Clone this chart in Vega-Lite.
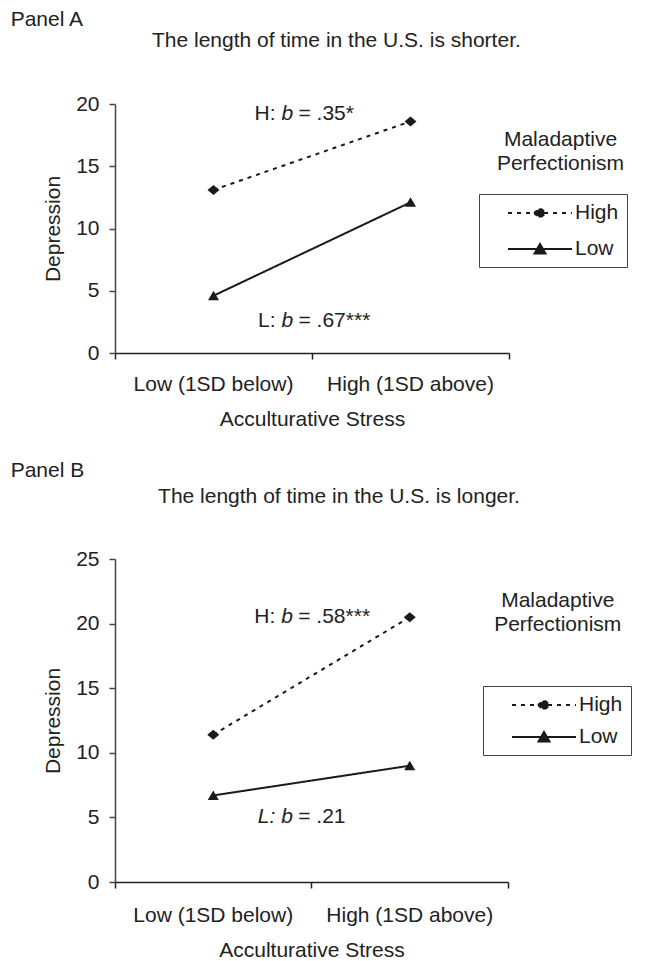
{
  "$schema": "https://vega.github.io/schema/vega-lite/v6.json",
  "background": "white",
  "padding": {"left": 10, "top": 9, "right": 0, "bottom": 0},
  "config": {
    "font": "Liberation Sans",
    "view": {"stroke": null},
    "axis": {"labelFont": "Liberation Sans", "titleFont": "Liberation Sans", "labelFontSize": 21, "titleFontSize": 21, "titleFontWeight": "normal", "labelColor": "#222", "titleColor": "#222", "domainColor": "#444", "tickColor": "#444", "grid": false, "domainWidth": 1.5, "tickWidth": 1.5, "tickSize": 6},
    "title": {"font": "Liberation Sans", "fontSize": 21, "fontWeight": "normal", "color": "#222"},
    "text": {"font": "Liberation Sans", "fontSize": 21, "color": "#222"},
    "legend": {"labelFont": "Liberation Sans", "labelFontSize": 21, "labelColor": "#222"}
  },
  "datasets": {
    "points": [
      {"panel": "A", "group": "High", "stress": "Low (1SD below)", "depression": 13.1},
      {"panel": "A", "group": "High", "stress": "High (1SD above)", "depression": 18.6},
      {"panel": "A", "group": "Low", "stress": "Low (1SD below)", "depression": 4.6},
      {"panel": "A", "group": "Low", "stress": "High (1SD above)", "depression": 12.1},
      {"panel": "B", "group": "High", "stress": "Low (1SD below)", "depression": 11.4},
      {"panel": "B", "group": "High", "stress": "High (1SD above)", "depression": 20.5},
      {"panel": "B", "group": "Low", "stress": "Low (1SD below)", "depression": 6.7},
      {"panel": "B", "group": "Low", "stress": "High (1SD above)", "depression": 9.0}
    ],
    "notes": [
      {"panel": "A", "group": "High", "stress": "Low (1SD below)", "depression": 19.2, "prefix": "H:", "stat": "= .35*"},
      {"panel": "A", "group": "Low", "stress": "Low (1SD below)", "depression": 2.6, "prefix": "L:", "stat": "= .67***"},
      {"panel": "B", "group": "High", "stress": "Low (1SD below)", "depression": 20.5, "prefix": "H:", "stat": "= .58***"},
      {"panel": "B", "group": "Low", "stress": "Low (1SD below)", "depression": 5.0, "prefix": "L:", "stat": "= .21"}
    ]
  },
  "spacing": 31,
  "resolve": {"scale": {"strokeDash": "independent", "shape": "independent", "stroke": "independent"}, "legend": {"strokeDash": "independent", "shape": "independent", "stroke": "independent"}},
  "vconcat": [
    {
      "title": {"text": "Panel A", "anchor": "start", "dx": -32, "offset": 0},
      "vconcat": [
        {
          "width": 394,
          "height": 249,
          "title": {"text": "The length of time in the U.S. is shorter.", "anchor": "middle", "frame": "bounds", "offset": 42, "dx": 3},
          "encoding": {
            "x": {"field": "stress", "type": "nominal", "scale": {"type": "band", "domain": ["Low (1SD below)", "High (1SD above)"], "paddingInner": 0, "paddingOuter": 0}, "axis": {"title": "Acculturative Stress", "bandPosition": 1, "tickExtra": true, "labelAngle": 0, "labelPadding": 14, "titlePadding": 14, "domainColor": "#222", "tickColor": "#222", "labelOverlap": false}},
            "y": {"field": "depression", "type": "quantitative", "scale": {"domain": [0, 20], "nice": false}, "axis": {"title": "Depression", "values": [0, 5, 10, 15, 20], "labelPadding": 10, "titlePadding": 12}}
          },
          "layer": [
            {
              "data": {"name": "points"},
              "transform": [{"filter": "datum.panel == 'A'"}],
              "mark": {"type": "line", "strokeWidth": 2, "color": "#1a1a1a"},
              "encoding": {
                "strokeDash": {"field": "group", "type": "nominal", "scale": {"domain": ["High", "Low"], "range": [[4, 5], [1, 0]]},
                  "legend": {"title": null, "orient": "none", "legendX": 364, "legendY": 90, "strokeColor": "#444", "fillColor": "white", "padding": 8, "symbolSize": 400, "symbolStrokeWidth": 2, "symbolFillColor": "#1a1a1a", "symbolOffset": 42, "labelOffset": 24, "rowPadding": 15, "labelExpr": "datum.label + '   '"}}
              }
            },
            {
              "data": {"name": "points"},
              "transform": [{"filter": "datum.panel == 'A'"}],
              "mark": {"type": "point", "filled": true, "color": "#1a1a1a", "strokeWidth": 0, "opacity": 1, "size": 400},
              "encoding": {
                "shape": {"field": "group", "type": "nominal", "scale": {"domain": ["High", "Low"], "range": ["M-5.3,0M-3.2,0L3.2,0M-0.6,0L0,-0.5L0.6,0L0,0.5Z", "M-5.3,0M-3.2,0L3.2,0M-0.55,0.45L0,-0.5L0.55,0.45Z"]},
                  "legend": {"title": null, "orient": "none", "legendX": 364, "legendY": 90, "strokeColor": "#444", "fillColor": "white", "padding": 8, "symbolSize": 400, "symbolStrokeWidth": 2, "symbolFillColor": "#1a1a1a", "symbolOffset": 42, "labelOffset": 24, "rowPadding": 15, "labelExpr": "datum.label + '   '"}},
                "stroke": {"field": "group", "type": "nominal", "scale": {"domain": ["High", "Low"], "range": ["#1a1a1a", "#1a1a1a"]},
                  "legend": {"title": null, "orient": "none", "legendX": 364, "legendY": 90, "strokeColor": "#444", "fillColor": "white", "padding": 8, "symbolSize": 400, "symbolStrokeWidth": 2, "symbolFillColor": "#1a1a1a", "symbolOffset": 42, "labelOffset": 24, "rowPadding": 15, "labelExpr": "datum.label + '   '"}}
              }
            },
            {
              "data": {"name": "notes"},
              "transform": [{"filter": "datum.panel == 'A'"}],
              "mark": {"type": "text", "align": "right", "baseline": "middle", "dx": 62},
              "encoding": {"text": {"field": "prefix"}}
            },
            {
              "data": {"name": "notes"},
              "transform": [{"filter": "datum.panel == 'A'"}],
              "mark": {"type": "text", "align": "left", "baseline": "middle", "dx": 68, "fontStyle": "italic"},
              "encoding": {"text": {"value": "b"}}
            },
            {
              "data": {"name": "notes"},
              "transform": [{"filter": "datum.panel == 'A'"}],
              "mark": {"type": "text", "align": "left", "baseline": "middle", "dx": 85},
              "encoding": {"text": {"field": "stat"}}
            },
            {
              "data": {"name": "notes"},
              "transform": [{"filter": "datum.panel == 'A' && datum.group == 'High'"}],
              "mark": {"type": "text", "align": "center", "baseline": "middle", "dx": 150, "lineHeight": 24, "text": ["Maladaptive", "Perfectionism"]},
              "encoding": {"x": {"datum": "High (1SD above)", "type": "nominal"}, "y": {"datum": 17.1, "type": "quantitative"}}
            }
          ]
        }
      ]
    },
    {
      "title": {"text": "Panel B", "anchor": "start", "dx": -32, "offset": 5},
      "vconcat": [
        {
          "width": 393,
          "height": 323,
          "title": {"text": "The length of time in the U.S. is longer.", "anchor": "middle", "frame": "bounds", "offset": 41, "dx": 7},
          "encoding": {
            "x": {"field": "stress", "type": "nominal", "scale": {"type": "band", "domain": ["Low (1SD below)", "High (1SD above)"], "paddingInner": 0, "paddingOuter": 0}, "axis": {"title": "Acculturative Stress", "bandPosition": 1, "tickExtra": true, "labelAngle": 0, "labelPadding": 16, "titlePadding": 14, "domainColor": "#222", "tickColor": "#222", "labelOverlap": false}},
            "y": {"field": "depression", "type": "quantitative", "scale": {"domain": [0, 25], "nice": false}, "axis": {"title": "Depression", "values": [0, 5, 10, 15, 20, 25], "labelPadding": 10, "titlePadding": 12}}
          },
          "layer": [
            {
              "data": {"name": "points"},
              "transform": [{"filter": "datum.panel == 'B'"}],
              "mark": {"type": "line", "strokeWidth": 2, "color": "#1a1a1a"},
              "encoding": {
                "strokeDash": {"field": "group", "type": "nominal", "scale": {"domain": ["High", "Low"], "range": [[4, 5], [1, 0]]},
                  "legend": {"title": null, "orient": "none", "legendX": 368, "legendY": 127, "strokeColor": "#444", "fillColor": "white", "padding": 8, "symbolSize": 400, "symbolStrokeWidth": 2, "symbolFillColor": "#1a1a1a", "symbolOffset": 42, "labelOffset": 24, "rowPadding": 11, "labelExpr": "datum.label + '   '"}}
              }
            },
            {
              "data": {"name": "points"},
              "transform": [{"filter": "datum.panel == 'B'"}],
              "mark": {"type": "point", "filled": true, "color": "#1a1a1a", "strokeWidth": 0, "opacity": 1, "size": 400},
              "encoding": {
                "shape": {"field": "group", "type": "nominal", "scale": {"domain": ["High", "Low"], "range": ["M-5.3,0M-3.2,0L3.2,0M-0.6,0L0,-0.5L0.6,0L0,0.5Z", "M-5.3,0M-3.2,0L3.2,0M-0.55,0.45L0,-0.5L0.55,0.45Z"]},
                  "legend": {"title": null, "orient": "none", "legendX": 368, "legendY": 127, "strokeColor": "#444", "fillColor": "white", "padding": 8, "symbolSize": 400, "symbolStrokeWidth": 2, "symbolFillColor": "#1a1a1a", "symbolOffset": 42, "labelOffset": 24, "rowPadding": 11, "labelExpr": "datum.label + '   '"}},
                "stroke": {"field": "group", "type": "nominal", "scale": {"domain": ["High", "Low"], "range": ["#1a1a1a", "#1a1a1a"]},
                  "legend": {"title": null, "orient": "none", "legendX": 368, "legendY": 127, "strokeColor": "#444", "fillColor": "white", "padding": 8, "symbolSize": 400, "symbolStrokeWidth": 2, "symbolFillColor": "#1a1a1a", "symbolOffset": 42, "labelOffset": 24, "rowPadding": 11, "labelExpr": "datum.label + '   '"}}
              }
            },
            {
              "data": {"name": "notes"},
              "transform": [{"filter": "datum.panel == 'B' && datum.group == 'High'"}],
              "mark": {"type": "text", "align": "right", "baseline": "middle", "dx": 62},
              "encoding": {"text": {"field": "prefix"}}
            },
            {
              "data": {"name": "notes"},
              "transform": [{"filter": "datum.panel == 'B' && datum.group == 'Low'"}],
              "mark": {"type": "text", "align": "right", "baseline": "middle", "dx": 62, "fontStyle": "italic"},
              "encoding": {"text": {"field": "prefix"}}
            },
            {
              "data": {"name": "notes"},
              "transform": [{"filter": "datum.panel == 'B'"}],
              "mark": {"type": "text", "align": "left", "baseline": "middle", "dx": 68, "fontStyle": "italic"},
              "encoding": {"text": {"value": "b"}}
            },
            {
              "data": {"name": "notes"},
              "transform": [{"filter": "datum.panel == 'B'"}],
              "mark": {"type": "text", "align": "left", "baseline": "middle", "dx": 85},
              "encoding": {"text": {"field": "stat"}}
            },
            {
              "data": {"name": "notes"},
              "transform": [{"filter": "datum.panel == 'B' && datum.group == 'High'"}],
              "mark": {"type": "text", "align": "center", "baseline": "middle", "dx": 148, "lineHeight": 24, "text": ["Maladaptive", "Perfectionism"]},
              "encoding": {"x": {"datum": "High (1SD above)", "type": "nominal"}, "y": {"datum": 21.75, "type": "quantitative"}}
            }
          ]
        }
      ]
    }
  ]
}
